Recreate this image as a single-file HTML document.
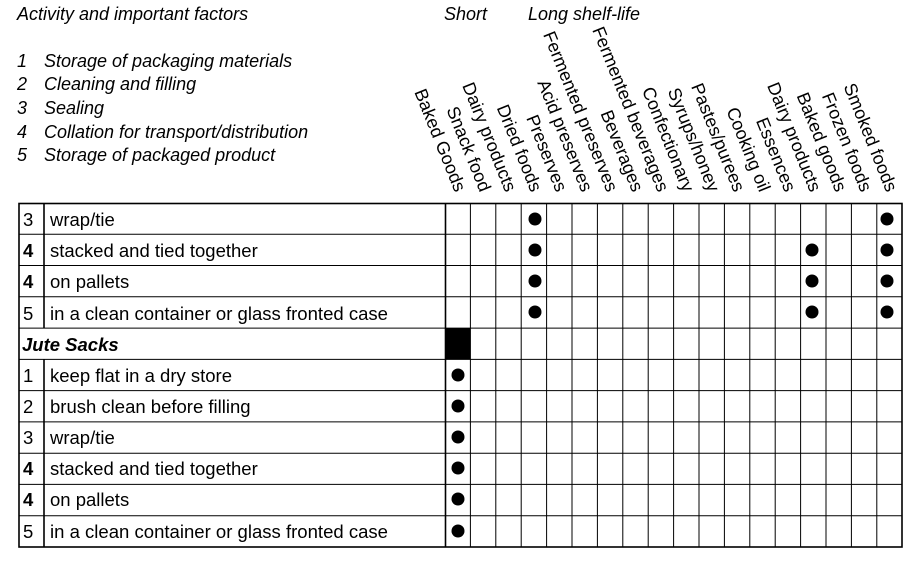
<!DOCTYPE html>
<html><head><meta charset="utf-8"><style>
html,body{margin:0;padding:0;background:#fff;}
svg{display:block;font-family:"Liberation Sans",Arial,sans-serif;}
</style></head><body>
<svg width="924" height="568" viewBox="0 0 924 568" xmlns="http://www.w3.org/2000/svg">
<g font-style="italic" font-size="18" fill="#000">
<text x="17" y="20">Activity and important factors</text>
<text x="17" y="67">1</text><text x="44" y="67">Storage of packaging materials</text>
<text x="17" y="90">2</text><text x="44" y="90">Cleaning and filling</text>
<text x="17" y="114">3</text><text x="44" y="114">Sealing</text>
<text x="17" y="138">4</text><text x="44" y="138">Collation for transport/distribution</text>
<text x="17" y="161">5</text><text x="44" y="161">Storage of packaged product</text>
<text x="444" y="20">Short</text>
<text x="528" y="20">Long shelf-life</text>
</g>
<g font-size="18" fill="#000" text-anchor="end">
<text transform="translate(455,193) rotate(68)">Baked Goods</text>
<text transform="translate(480,193) rotate(68)">Snack food</text>
<text transform="translate(505.5,193) rotate(68)">Dairy products</text>
<text transform="translate(531,193) rotate(68)">Dried foods</text>
<text transform="translate(556.3,193) rotate(68)">Preserves</text>
<text transform="translate(581.7,193) rotate(68)">Acid preserves</text>
<text transform="translate(607,193) rotate(68)">Fermented preserves</text>
<text transform="translate(632.5,193) rotate(68)">Beverages</text>
<text transform="translate(658,193) rotate(68)">Fermented beverages</text>
<text transform="translate(683.3,193) rotate(68)">Confectionary</text>
<text transform="translate(708.7,193) rotate(68)">Syrups/honey</text>
<text transform="translate(734,193) rotate(68)">Pastes/purees</text>
<text transform="translate(759.5,193) rotate(68)">Cooking oil</text>
<text transform="translate(785,193) rotate(68)">Essences</text>
<text transform="translate(810.3,193) rotate(68)">Dairy products</text>
<text transform="translate(835.7,193) rotate(68)">Baked goods</text>
<text transform="translate(861,193) rotate(68)">Frozen foods</text>
<text transform="translate(886.5,193) rotate(68)">Smoked foods</text>
</g>
<g stroke="#000" stroke-width="1" fill="none">
<line x1="19" y1="234.3" x2="902" y2="234.3"/>
<line x1="19" y1="265.5" x2="902" y2="265.5"/>
<line x1="19" y1="296.8" x2="902" y2="296.8"/>
<line x1="19" y1="328.1" x2="902" y2="328.1"/>
<line x1="19" y1="359.4" x2="902" y2="359.4"/>
<line x1="19" y1="390.6" x2="902" y2="390.6"/>
<line x1="19" y1="421.9" x2="902" y2="421.9"/>
<line x1="19" y1="453.2" x2="902" y2="453.2"/>
<line x1="19" y1="484.4" x2="902" y2="484.4"/>
<line x1="19" y1="515.7" x2="902" y2="515.7"/>
<line x1="470.4" y1="203" x2="470.4" y2="547"/>
<line x1="495.8" y1="203" x2="495.8" y2="547"/>
<line x1="521.2" y1="203" x2="521.2" y2="547"/>
<line x1="546.6" y1="203" x2="546.6" y2="547"/>
<line x1="572" y1="203" x2="572" y2="547"/>
<line x1="597.4" y1="203" x2="597.4" y2="547"/>
<line x1="622.8" y1="203" x2="622.8" y2="547"/>
<line x1="648.2" y1="203" x2="648.2" y2="547"/>
<line x1="673.6" y1="203" x2="673.6" y2="547"/>
<line x1="699" y1="203" x2="699" y2="547"/>
<line x1="724.4" y1="203" x2="724.4" y2="547"/>
<line x1="749.8" y1="203" x2="749.8" y2="547"/>
<line x1="775.2" y1="203" x2="775.2" y2="547"/>
<line x1="800.6" y1="203" x2="800.6" y2="547"/>
<line x1="826" y1="203" x2="826" y2="547"/>
<line x1="851.4" y1="203" x2="851.4" y2="547"/>
<line x1="876.8" y1="203" x2="876.8" y2="547"/>
</g>
<g stroke="#000" stroke-width="1.6" fill="none">
<rect x="19" y="203.5" width="883" height="343.5"/>
<line x1="44" y1="203" x2="44" y2="328.1"/>
<line x1="44" y1="359.4" x2="44" y2="547"/>
<line x1="445.5" y1="203" x2="445.5" y2="547"/>
</g>
<rect x="446" y="328.1" width="24.4" height="31.3" fill="#000"/>
<g font-size="18.5" fill="#000">
<text x="23" y="226">3</text><text x="50" y="226">wrap/tie</text>
<text x="23" y="257" font-weight="bold">4</text><text x="50" y="257">stacked and tied together</text>
<text x="23" y="288" font-weight="bold">4</text><text x="50" y="288">on pallets</text>
<text x="23" y="320">5</text><text x="50" y="320" textLength="338" lengthAdjust="spacingAndGlyphs">in a clean container or glass fronted case</text>
<text x="22" y="351" font-weight="bold" font-style="italic">Jute Sacks</text>
<text x="23" y="382">1</text><text x="50" y="382">keep flat in a dry store</text>
<text x="23" y="413">2</text><text x="50" y="413">brush clean before filling</text>
<text x="23" y="444">3</text><text x="50" y="444">wrap/tie</text>
<text x="23" y="475" font-weight="bold">4</text><text x="50" y="475">stacked and tied together</text>
<text x="23" y="506" font-weight="bold">4</text><text x="50" y="506">on pallets</text>
<text x="23" y="538">5</text><text x="50" y="538" textLength="338" lengthAdjust="spacingAndGlyphs">in a clean container or glass fronted case</text>
</g>
<g fill="#000">
<circle cx="535" cy="219" r="6.5"/><circle cx="887" cy="219" r="6.5"/>
<circle cx="535" cy="250" r="6.5"/><circle cx="812" cy="250" r="6.5"/><circle cx="887" cy="250" r="6.5"/>
<circle cx="535" cy="281" r="6.5"/><circle cx="812" cy="281" r="6.5"/><circle cx="887" cy="281" r="6.5"/>
<circle cx="535" cy="312" r="6.5"/><circle cx="812" cy="312" r="6.5"/><circle cx="887" cy="312" r="6.5"/>
<circle cx="458" cy="375" r="6.5"/>
<circle cx="458" cy="406" r="6.5"/>
<circle cx="458" cy="437" r="6.5"/>
<circle cx="458" cy="468" r="6.5"/>
<circle cx="458" cy="499" r="6.5"/>
<circle cx="458" cy="531" r="6.5"/>
</g>
</svg>
</body></html>
